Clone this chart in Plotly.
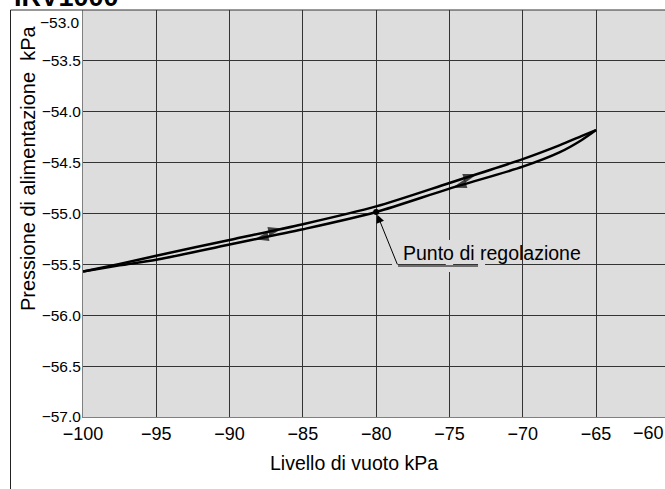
import numpy as np
import plotly.graph_objects as go

# ---------------- data ----------------
title_text = "IRV1000"
x_title = "Livello di vuoto kPa"
y_title = "Pressione di alimentazione  kPa"
setpoint_label = "Punto di regolazione"

# branch travelled with increasing vacuum level (upper curve, arrows to the right)
up_x = [-100, -97.5, -95, -90, -85, -80, -75, -70, -67.5, -66, -65]
up_y = [-55.57, -55.495, -55.415, -55.26, -55.105, -54.93, -54.70, -54.465, -54.33, -54.24, -54.18]
# branch travelled back (lower curve, arrows to the left)
dn_x = [-65, -66, -67.5, -70, -75, -80, -85, -90, -95, -97.5, -100]
dn_y = [-54.18, -54.28, -54.40, -54.54, -54.755, -54.985, -55.155, -55.305, -55.455, -55.51, -55.57]

up_arrow_x = [-86.4, -73.1]
dn_arrow_x = [-88.3, -74.8]

setpoint_x = -80
setpoint_y = -54.985

x_ticks = [-100, -95, -90, -85, -80, -75, -70, -65]
x_tick_text = ["\u2212100", "\u221295", "\u221290", "\u221285", "\u221280", "\u221275", "\u221270", "\u221265"]
x_last_tick_text = "\u221260"
y_ticks = [-57.0, -56.5, -56.0, -55.5, -55.0, -54.5, -54.0, -53.5]
y_tick_text = ["\u221257.0", "\u221256.5", "\u221256.0", "\u221255.5", "\u221255.0", "\u221254.5", "\u221254.0", "\u221253.5"]
y_top_tick_text = "\u221253.0"

x_range = [-100, -60.09]
y_range = [-57.0, -53.0]

# ---------------- layout constants ----------------
W, H = 668, 489          # a few px wider than the window: the plot runs off the right edge
ML, MR, MT, MB = 83, 0, 10, 72
PW, PH = W - ML - MR, H - MT - MB

def px_to_paper_x(px):
    return (px - ML) / PW

def px_to_paper_y(py):
    return (H - MB - py) / PH

SANS = "Liberation Sans, Arial, sans-serif"

fig = go.Figure()

fig.add_trace(go.Scatter(x=up_x, y=up_y, mode="lines",
                         line=dict(color="black", width=2.5, shape="spline", smoothing=0.8),
                         hoverinfo="skip", showlegend=False))
fig.add_trace(go.Scatter(x=dn_x, y=dn_y, mode="lines",
                         line=dict(color="black", width=2.5, shape="spline", smoothing=0.8),
                         hoverinfo="skip", showlegend=False))

# arrow heads along the branches
ax_pts, ay_pts, sizes = [], [], []
for xa in up_arrow_x:
    for xx, s in ((xa - 0.6, 0), (xa, 15)):
        ax_pts.append(xx); ay_pts.append(float(np.interp(xx, up_x, up_y))); sizes.append(s)
dn_x_inc, dn_y_inc = dn_x[::-1], dn_y[::-1]
for xa in dn_arrow_x:
    for xx, s in ((xa + 0.6, 0), (xa, 15)):
        ax_pts.append(xx); ay_pts.append(float(np.interp(xx, dn_x_inc, dn_y_inc))); sizes.append(s)
fig.add_trace(go.Scatter(x=ax_pts, y=ay_pts, mode="markers",
                         marker=dict(symbol="arrow", size=sizes, color="black",
                                     angleref="previous", line=dict(width=0)),
                         hoverinfo="skip", showlegend=False))

# set point
fig.add_trace(go.Scatter(x=[setpoint_x], y=[setpoint_y], mode="markers",
                         marker=dict(symbol="circle", size=6, color="black"),
                         hoverinfo="skip", showlegend=False))

fig.update_layout(
    width=W, height=H,
    margin=dict(l=ML, r=MR, t=MT, b=MB, pad=0, autoexpand=False),
    paper_bgcolor="white", plot_bgcolor="#dddddd",
    font=dict(family=SANS, color="black"),
    xaxis=dict(range=x_range, tickvals=x_ticks, ticktext=x_tick_text, automargin=False,
               showgrid=True, gridcolor="#333333", gridwidth=1,
               showline=True, linecolor="#808080", linewidth=1,
               zeroline=False, ticks="", tickfont=dict(family=SANS, size=18)),
    yaxis=dict(range=y_range, tickvals=y_ticks, ticktext=y_tick_text, automargin=False,
               showgrid=True, gridcolor="#333333", gridwidth=1,
               showline=True, linecolor="#808080", linewidth=1, ticklabelstandoff=-2,
               zeroline=False, ticks="", tickfont=dict(family=SANS, size=15.5)),
)

annotations = [
    dict(text=f"<b>{title_text}</b>", xref="paper", yref="paper",
         x=px_to_paper_x(12), y=px_to_paper_y(-2.7), xanchor="left", yanchor="middle",
         showarrow=False, font=dict(family=SANS, size=27, color="black")),
    dict(text=x_title, xref="paper", yref="paper", x=px_to_paper_x(354), y=px_to_paper_y(463),
         xanchor="center", yanchor="middle", showarrow=False, font=dict(family=SANS, size=19.5)),
    dict(text=y_title, xref="paper", yref="paper", x=px_to_paper_x(28), y=px_to_paper_y(169),
         xanchor="center", yanchor="middle", textangle=-90, showarrow=False,
         font=dict(family=SANS, size=20)),
    dict(text=x_last_tick_text, xref="paper", yref="paper", x=px_to_paper_x(648), y=px_to_paper_y(433),
         xanchor="center", yanchor="middle", showarrow=False, font=dict(family=SANS, size=18)),
    dict(text=y_top_tick_text, xref="paper", yref="paper", x=px_to_paper_x(82), y=px_to_paper_y(22),
         xanchor="right", yanchor="middle", showarrow=False, font=dict(family=SANS, size=15.5)),
    dict(text=setpoint_label, xref="x", yref="y", x=-78.30, y=-55.39,
         xanchor="left", yanchor="middle", showarrow=False, font=dict(family=SANS, size=19.5)),
    dict(text="", xref="x", yref="y", x=setpoint_x, y=setpoint_y,
         axref="x", ayref="y", ax=-78.51, ay=-55.516, showarrow=True,
         arrowhead=2, arrowsize=1.6, arrowwidth=1, arrowcolor="black", standoff=3),
]
fig.update_layout(annotations=annotations)

shapes = [
    # frame
    dict(type="line", xref="paper", yref="paper", x0=px_to_paper_x(10.5), x1=1.0, y0=1.0, y1=1.0,
         line=dict(color="#333333", width=1)),
    dict(type="line", xref="paper", yref="paper", x0=px_to_paper_x(10.5), x1=px_to_paper_x(10.5),
         y0=1.0, y1=px_to_paper_y(H + 5), line=dict(color="#222222", width=1)),
    # masks around the label
    dict(type="rect", xref="x", yref="y", x0=-75.25, x1=-74.75, y0=-55.575, y1=-55.26,
         fillcolor="#dddddd", line=dict(width=0), layer="above"),
    dict(type="rect", xref="x", yref="y", x0=-78.92, x1=-78.51, y0=-55.53, y1=-55.47,
         fillcolor="#dddddd", line=dict(width=0), layer="above"),
    dict(type="rect", xref="x", yref="y", x0=-73.05, x1=-72.57, y0=-55.53, y1=-55.47,
         fillcolor="#dddddd", line=dict(width=0), layer="above"),
    # leader underline
    dict(type="line", xref="x", yref="y", x0=-78.51, x1=-73.05, y0=-55.516, y1=-55.516,
         line=dict(color="black", width=1), layer="above"),
]
fig.update_layout(shapes=shapes)

# remove the browser's default 8 px body margin so the figure fills the window
fig.write_html("out.html", config={"displayModeBar": False, "staticPlot": True},
               post_script="document.body.style.margin='0px';document.body.style.overflow='hidden';")
